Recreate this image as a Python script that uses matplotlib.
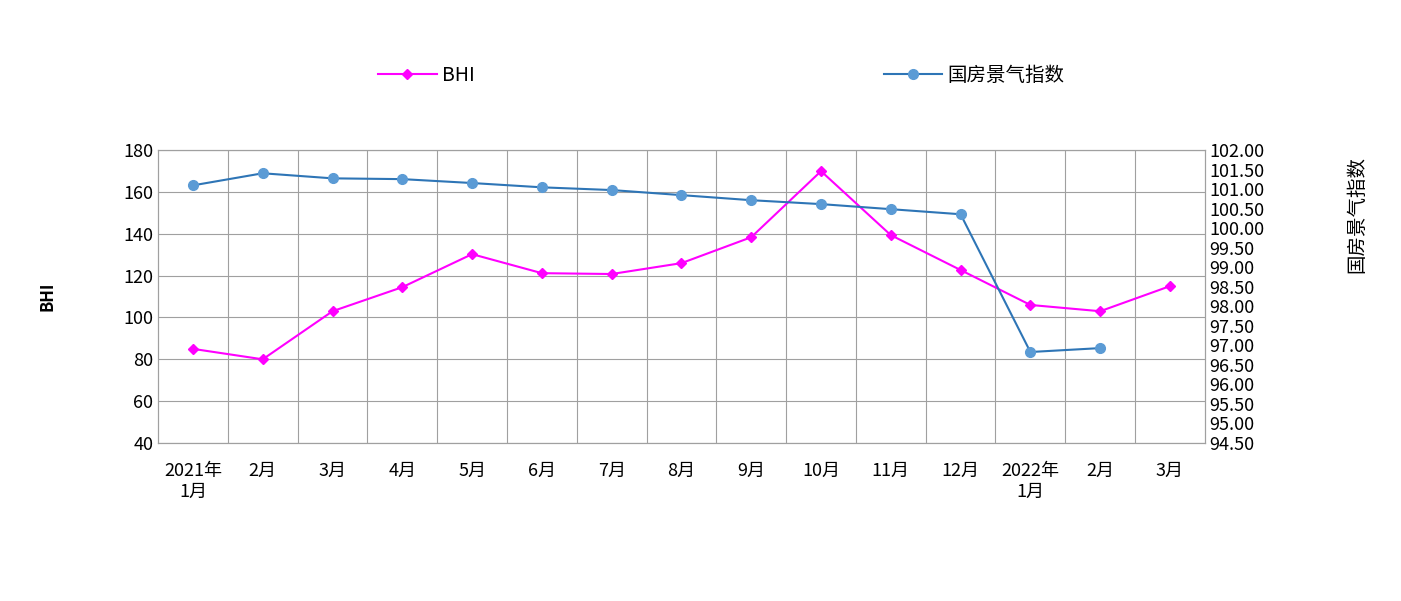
import matplotlib.pyplot as plt
from matplotlib.lines import Line2D

plt.rcParams['font.family'] = ['Noto Sans CJK SC', 'DejaVu Sans']

months = ['2021年\n1月', '2月', '3月', '4月', '5月', '6月', '7月', '8月', '9月',
          '10月', '11月', '12月', '2022年\n1月', '2月', '3月']
bhi = [85, 80, 103, 114.5, 130.3, 121.2, 120.8, 126, 138.4, 170, 139.4, 122.7, 106, 103, 115]
index = [101.10, 101.41, 101.28, 101.26, 101.16, 101.05, 100.98, 100.85, 100.72,
         100.62, 100.49, 100.36, 96.83, 96.93]

fig = plt.figure(figsize=(14.01, 6.01), dpi=100)
ax = fig.add_axes([0.1128, 0.263, 0.7472, 0.487])
ax2 = ax.twinx()

x = list(range(len(months)))
ax.plot(x, bhi, color='#ff00ff', marker='D', markersize=5, linewidth=1.5, zorder=3)
ax2.plot(x[:len(index)], index, color='#2e75b6', marker='o', markersize=7,
         markerfacecolor='#5b9bd5', markeredgecolor='#5b9bd5', linewidth=1.5)

ax.set_xlim(-0.5, len(months) - 0.5)
ax.set_ylim(40, 180)
ax.set_yticks(range(40, 181, 20))
ax2.set_ylim(94.5, 102)
ax2.set_yticks([94.5 + 0.5 * i for i in range(16)])
ax2.set_yticklabels([f'{94.5 + 0.5 * i:.2f}' for i in range(16)])

ax.set_xticks(x)
ax.set_xticklabels(months)
ax.set_xticks([i + 0.5 for i in x[:-1]], minor=True)
ax.grid(True, which='minor', axis='x', color='#a0a0a0', linewidth=0.8)
ax.grid(True, which='major', axis='y', color='#a0a0a0', linewidth=0.8)
ax.tick_params(axis='x', which='both', length=0, pad=14)
ax.tick_params(axis='y', length=0, labelsize=13)
ax2.tick_params(axis='y', length=0, labelsize=13)
for lab in ax.get_xticklabels():
    lab.set_fontsize(13)

for a in (ax, ax2):
    for s in a.spines.values():
        s.set_color('#a0a0a0')

ax.set_ylabel('BHI', fontsize=12, fontweight='bold', labelpad=48)
ax2.set_ylabel('国房景气指数', fontsize=14, labelpad=40)
ax2.yaxis.set_label_coords(1.135, 0.78)

h1 = Line2D([], [], color='#ff00ff', marker='D', markersize=5, linewidth=1.5)
h2 = Line2D([], [], color='#2e75b6', marker='o', markersize=7,
            markerfacecolor='#5b9bd5', markeredgecolor='#5b9bd5', linewidth=1.5)
fig.legend([h1, h2], ['BHI', '国房景气指数'], loc='center', bbox_to_anchor=(0.515, 0.875),
           ncol=2, frameon=False, fontsize=14, columnspacing=21, handlelength=3,
           handletextpad=0.3)

fig.savefig('out.png', dpi=100)
